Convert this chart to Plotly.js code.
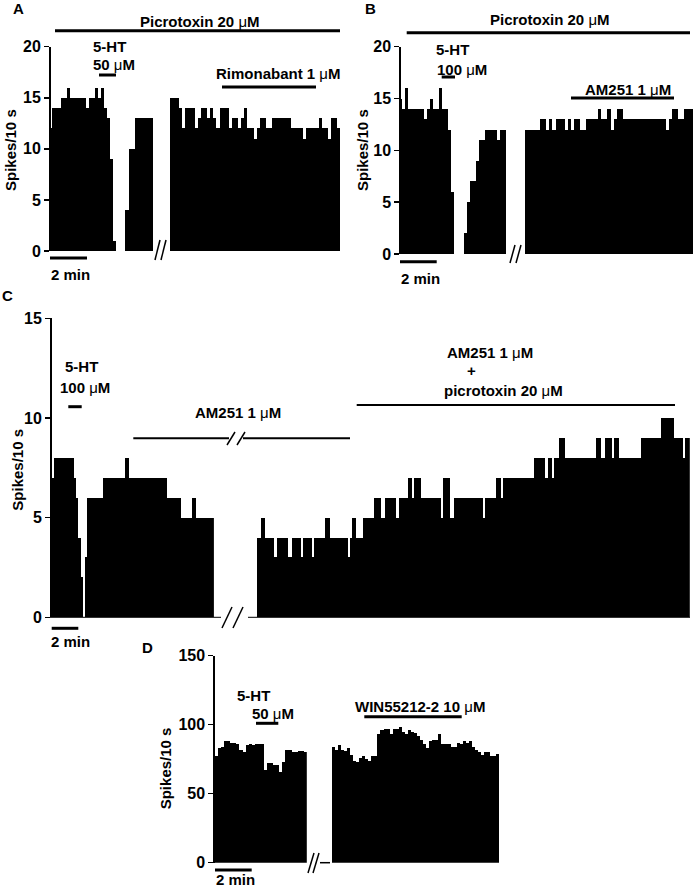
<!DOCTYPE html>
<html><head><meta charset="utf-8">
<script src="https://cdn.plot.ly/plotly-3.0.1.min.js"></script>
<style>html,body{margin:0;padding:0;background:#fff}#chart{width:693px;height:888px}</style>
</head><body><div id="chart"></div>
<script>
// ---------- data (spikes per 10-s bin) ----------
const panelA_before = [12,14,14,14,15,15,16,15,15,15,15,15,14,15,15,16,15,16,14,13,9,1,0,0,0,4,10,10,13,13,13,13,13,13];
const panelA_after  = [15,15,15,14,12,14,14,14,12,13,14,14,13,14,13,12,14,14,14,12,13,13,12,13,14,12,12,11,12,13,13,12,12,13,13,13,13,13,13,12,12,12,12,11,12,12,12,12,13,12,12,11,13,13,12];
const panelB_before = [15,14,16,14,14,14,14,14,13,14,15,14,14,16,14,14,12,6,0,0,0,2,5,7,7,9,11,11,12,12,12,12,11,12,12];
const panelB_after  = [12,12,12,12,12,13,13,12,13,12,13,13,13,12,13,12,13,13,12,12,13,13,13,13,14,13,13,14,12,13,14,14,13,13,13,13,13,13,13,13,13,13,13,13,13,13,12,13,14,14,13,13,14,14,14];
const panelC_before = [7,8,8,8,8,8,8,8,8,8,7,6,4,2,0,3,6,6,6,6,6,6,6,7,7,7,7,7,7,7,7,7,7,8,8,
  7,7,7,7,7,7,7,7,7,7,7,7,7,7,7,7,7,6,6,6,6,6,6,5,5,5,5,5,6,6,5,5,5,5,5,5,5,5];
const panelC_after = [4,4,5,5,4,4,4,4,3,4,4,4,4,4,3,3,4,4,4,4,3,4,4,4,4,3,4,4,4,4,4,5,5,4,4,4,4,4,4,4,4,3,4,5,5,4,4,4,
  5,5,5,5,5,6,6,6,5,5,6,6,6,6,6,5,6,6,6,6,7,7,6,7,7,7,6,6,6,6,6,6,6,6,6,5,7,7,7,5,5,
  6,6,6,6,6,6,6,6,6,6,6,6,6,5,6,6,6,6,6,7,7,6,7,7,7,7,7,7,7,7,7,7,7,7,7,7,
  8,8,8,8,8,7,8,8,7,8,8,9,9,9,8,8,8,8,8,8,8,8,8,8,8,8,8,8,9,9,8,8,9,9,9,8,9,9,
  8,8,8,8,8,8,8,8,8,8,9,9,9,9,9,9,9,9,9,10,10,10,10,10,10,9,9,9,9,8,9,9];
const panelD_before = [77,83,84,88,88,87,87,86,82,80,85,86,85,86,86,86,67,72,72,71,71,66,73,82,82,80,80,81,81,80];
const panelD_after  = [84,82,85,82,81,83,78,74,73,76,77,75,74,77,77,93,96,97,97,93,97,97,98,95,93,96,95,94,92,89,86,83,88,89,89,93,86,86,86,84,84,87,86,88,87,88,84,82,80,78,80,80,77,77,79];
const ticksAB = [0,5,10,15,20];
const ticksC  = [0,5,10,15];
const ticksD  = [0,50,100,150];

// ---------- helpers ----------
const W = 693, H = 888;
const X = p => p / W, Y = p => 1 - p / H;
const FONT = 'Liberation Sans, Arial, Helvetica, sans-serif';
const idx = a => a.map((_, i) => i);
function bars(vals, xa, ya) {
  return {type:'bar', x: idx(vals), y: vals, xaxis: xa, yaxis: ya, width: 1,
    marker:{color:'#000', line:{width:0}}, hoverinfo:'skip', showlegend:false};
}
function xax(p0, p1, n, anchor) {
  return {domain:[X(p0), X(p1)], range:[-0.5, n - 0.5], anchor, visible:false, fixedrange:true};
}
function yax(top, bottom, max, tv, posx) {
  return {domain:[Y(bottom), Y(top)], range:[0, max], anchor:'free', position:X(posx),
    showline:true, linecolor:'#000', linewidth:1.5, ticks:'outside', ticklen:5, tickwidth:1.5, tickcolor:'#000',
    tickmode:'array', tickvals:tv, ticktext:tv.map(String),
    tickfont:{family:FONT, size:16, color:'#000', weight:'bold'},
    showgrid:false, zeroline:false, fixedrange:true};
}
function ln(x0, y0, x1, y1, w) {
  return {type:'line', xref:'paper', yref:'paper', x0:X(x0), y0:Y(y0), x1:X(x1), y1:Y(y1),
    line:{color:'#000', width:w}};
}
function txt(text, x, y, size, angle) {
  return {text, x:X(x), y:Y(y), xref:'paper', yref:'paper', showarrow:false,
    xanchor:'center', yanchor:'middle', textangle: angle || 0,
    font:{family:FONT, size: size || 15, color:'#000'}};
}
const uM = '</b>\u03bc<b>M';

const data = [
  bars(panelA_before, 'x', 'y'),  bars(panelA_after, 'x2', 'y'),
  bars(panelB_before, 'x3', 'y2'), bars(panelB_after, 'x4', 'y2'),
  bars(panelC_before, 'x5', 'y3'), bars(panelC_after, 'x6', 'y3'),
  bars(panelD_before, 'x7', 'y4'), bars(panelD_after, 'x8', 'y4')
];

const layout = {
  width: W, height: H, margin:{l:0, r:0, t:0, b:0},
  paper_bgcolor:'#fff', plot_bgcolor:'rgba(0,0,0,0)', bargap:0, showlegend:false,
  xaxis:  xax(49, 153, panelA_before.length, 'y'),
  xaxis2: xax(170, 340.3, panelA_after.length, 'y'),
  xaxis3: xax(399.3, 506.4, panelB_before.length, 'y2'),
  xaxis4: xax(525, 693, panelB_after.length, 'y2'),
  xaxis5: xax(51.7, 213.9, panelC_before.length, 'y3'),
  xaxis6: xax(256.5, 689.8, panelC_after.length, 'y3'),
  xaxis7: xax(215, 306.8, panelD_before.length, 'y4'),
  xaxis8: xax(331.7, 499.4, panelD_after.length, 'y4'),
  yaxis:  yax(46.7, 251, 20, ticksAB, 49),
  yaxis2: yax(46.7, 254, 20, ticksAB, 399.3),
  yaxis3: yax(318.3, 617.3, 15, ticksC, 50),
  yaxis4: yax(655.7, 862.7, 150, ticksD, 213.3),
  shapes: [
    // A
    ln(55, 30.7, 340, 30.7, 3), ln(99, 75, 116, 75, 3), ln(222, 87, 316, 87, 3), ln(50, 258, 87, 258, 3),
    ln(155, 260, 160, 240, 1.5), ln(161, 260, 166, 240, 1.5),
    // B
    ln(406.7, 32.7, 690, 32.7, 3), ln(441.7, 77, 455, 77, 3), ln(571, 98, 674, 98, 3), ln(400, 261.7, 436.7, 261.7, 3),
    ln(510, 263, 515, 245, 1.5), ln(516, 263, 521, 245, 1.5),
    // C
    ln(68.3, 406.7, 81.7, 406.7, 3), ln(133.3, 438.3, 229, 438.3, 2), ln(243, 438.3, 350, 438.3, 2),
    ln(227, 445, 235, 432, 1.5), ln(237, 445, 245, 432, 1.5),
    ln(356.7, 405, 675, 405, 2), ln(51.7, 628.3, 78.3, 628.3, 3),
    ln(50, 617.3, 221, 617.3, 1), ln(248, 617.3, 690, 617.3, 1),
    ln(222, 628, 232, 607, 1.5), ln(233, 628, 243, 607, 1.5),
    // D
    ln(256, 723.3, 278.3, 723.3, 3), ln(364.3, 716.7, 461.7, 716.7, 3), ln(215, 870, 251.7, 870, 3),
    ln(308, 873, 314, 853, 1.5), ln(313, 873, 319, 853, 1.5), ln(320, 862.7, 330, 862.7, 1.5)
  ],
  annotations: [
    // A
    txt('<b>A</b>', 18, 9), txt('<b>Picrotoxin 20 ' + uM + '</b>', 200, 21),
    txt('<b>5-HT</b>', 109, 47), txt('<b>50 ' + uM + '</b>', 113.5, 65),
    txt('<b>Rimonabant 1 ' + uM + '</b>', 278, 73), txt('<b>2 min</b>', 70, 274),
    txt('<b>Spikes/10 s</b>', 11, 150, 15, -90),
    // B
    txt('<b>B</b>', 370, 9), txt('<b>Picrotoxin 20 ' + uM + '</b>', 550, 20),
    txt('<b>5-HT</b>', 453, 49), txt('<b>100 ' + uM + '</b>', 461.7, 70),
    txt('<b>AM251 1 ' + uM + '</b>', 628.3, 90), txt('<b>2 min</b>', 420, 278),
    txt('<b>Spikes/10 s</b>', 363, 150, 15, -90),
    // C
    txt('<b>C</b>', 7, 296), txt('<b>5-HT</b>', 81.7, 366.7), txt('<b>100 ' + uM + '</b>', 85, 387.3),
    txt('<b>AM251 1 ' + uM + '</b>', 238, 412.7),
    txt('<b>AM251 1 ' + uM + '</b>', 490, 352.7), txt('<b>+</b>', 471, 370),
    txt('<b>picrotoxin 20 ' + uM + '</b>', 503.3, 390.7),
    txt('<b>2 min</b>', 70, 641.7), txt('<b>Spikes/10 s</b>', 16.7, 470, 15, -90),
    // D
    txt('<b>D</b>', 147, 647), txt('<b>5-HT</b>', 253.3, 695), txt('<b>50 ' + uM + '</b>', 273.3, 713.3),
    txt('<b>WIN55212-2 10 ' + uM + '</b>', 420, 706.7), txt('<b>2 min</b>', 235, 879),
    txt('<b>Spikes/10 s</b>', 165, 768.3, 15, -90)
  ]
};

Plotly.newPlot('chart', data, layout, {displayModeBar:false, staticPlot:true});
</script>
</body></html>
